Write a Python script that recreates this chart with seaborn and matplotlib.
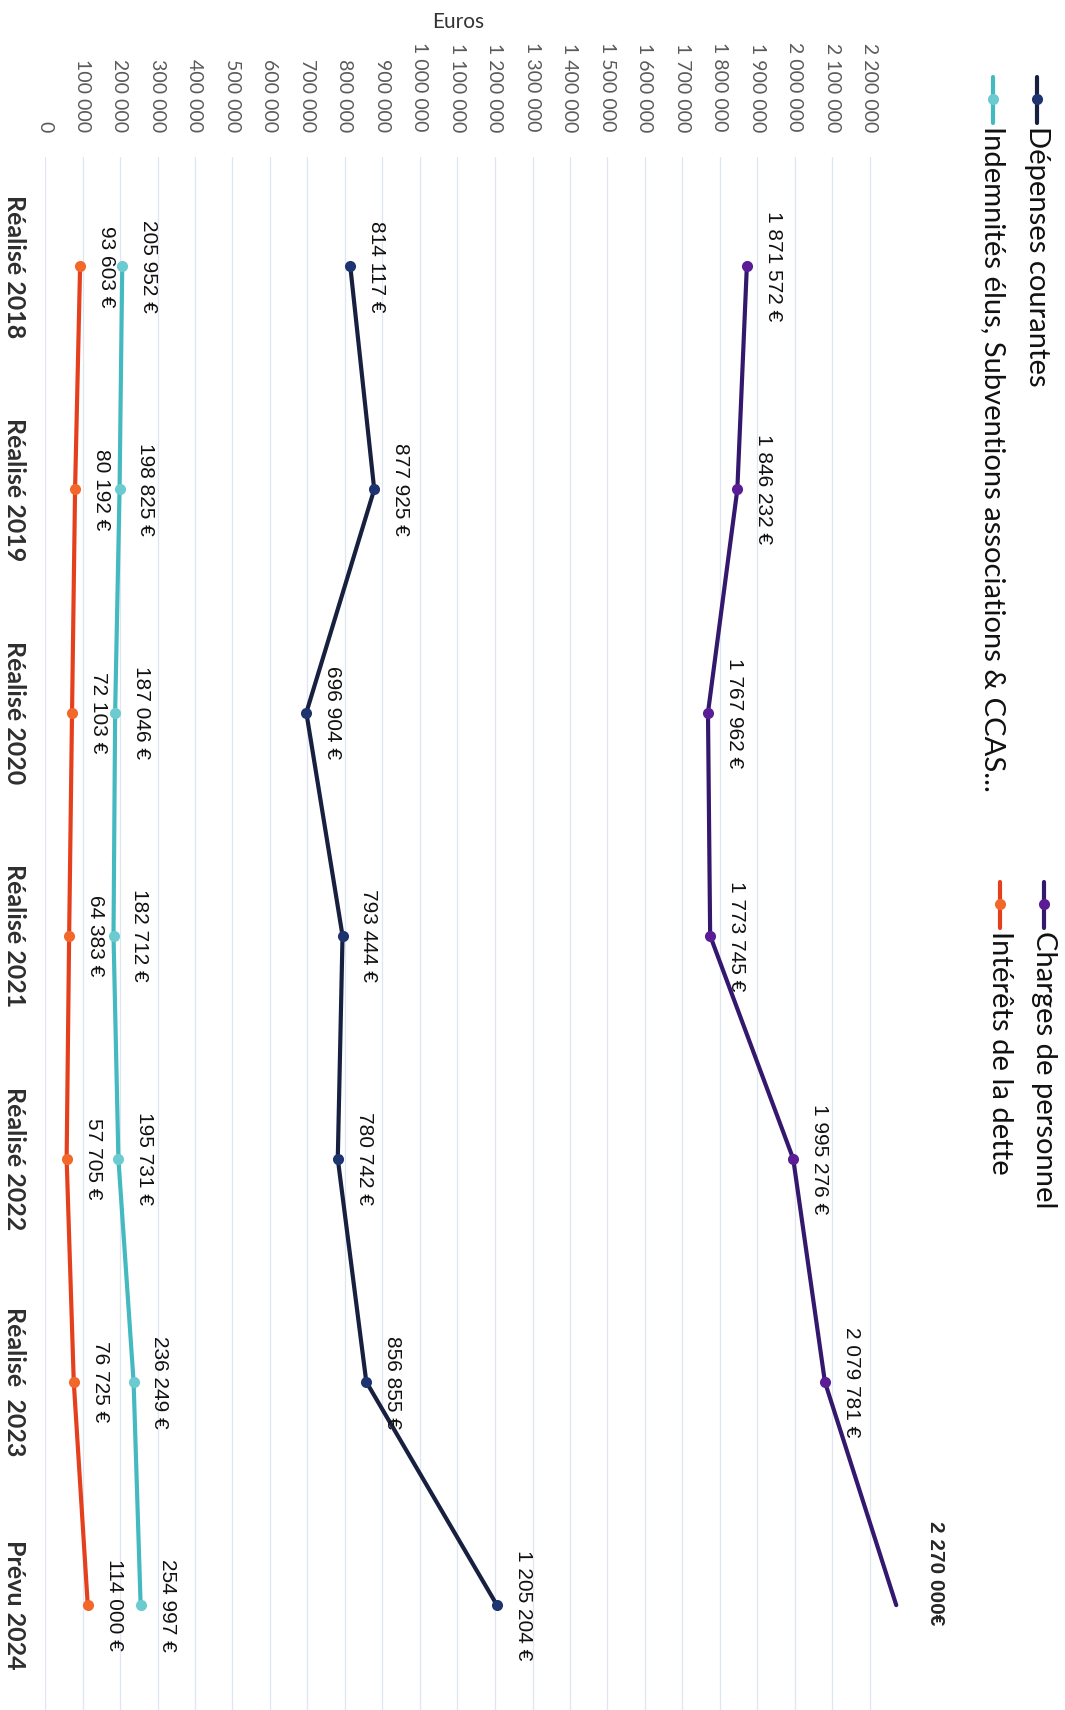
import pandas as pd
import numpy as np
import matplotlib.pyplot as plt
import seaborn as sns
from matplotlib.lines import Line2D

# Données
annees = ['Réalisé 2018', 'Réalisé 2019', 'Réalisé 2020', 'Réalisé 2021',
          'Réalisé 2022', 'Réalisé  2023', 'Prévu 2024']
depenses = [814117, 877925, 696904, 793444, 780742, 856855, 1205204]
charges = [1871572, 1846232, 1767962, 1773745, 1995276, 2079781, 2270000]
indemnites = [205952, 198825, 187046, 182712, 195731, 236249, 254997]
interets = [93603, 80192, 72103, 64383, 57705, 76725, 114000]

series = ['Dépenses courantes', 'Charges de personnel',
          'Indemnités élus, Subventions associations & CCAS...', 'Intérêts de la dette']
valeurs = [depenses, charges, indemnites, interets]
couleurs = ['#17203f', '#34186e', '#45b9c0', '#e5401d']
couleurs_pts = ['#1d3470', '#5a1d95', '#6ccbd0', '#f2682a']
ticks = list(range(0, 2200001, 100000))

rows = []
for nom, vals in zip(series, valeurs):
    for i, v in enumerate(vals):
        rows.append({'Série': nom, 'Montant': v, 'pos': i})
df = pd.DataFrame(rows)

sns.set_style('white')
plt.rcParams['font.family'] = ['Lato', 'DejaVu Sans']

W, H = 1065, 1710
fig = plt.figure(figsize=(W / 100, H / 100), dpi=100)
ax = fig.add_axes([45 / W, 0, 900 / W, 1 - 157 / H])

sns.lineplot(data=df, x='Montant', y='pos', hue='Série', hue_order=series,
             palette=couleurs, orient='y', sort=False, marker='o', markersize=8,
             markeredgewidth=0, linewidth=3, legend=False, ax=ax)

for line, c in zip(ax.lines, couleurs_pts):
    line.set_markerfacecolor(c)
# pas de marqueur pour la prévision des charges de personnel
ax.lines[1].set_markevery(list(range(6)))

ax.set_xlim(0, 2400000)
ax.set_ylim(6.47, -0.49)
ax.set_xticks(ticks)
ax.set_xticklabels([f'{t:,}'.replace(',', ' ') for t in ticks], rotation=-90,
                   fontsize=14, color='#5a5a5a')
ax.xaxis.tick_top()
ax.set_yticks(range(len(annees)))
ax.set_yticklabels(annees, rotation=-90, fontsize=18, fontweight='bold', color='#2e2e2e')
for lab in ax.get_yticklabels():
    lab.set_va('center')
ax.tick_params(axis='x', length=0, pad=18)
ax.tick_params(axis='y', length=0, pad=14)
ax.grid(axis='x', color='#dfe6ef', linewidth=0.9)
ax.grid(axis='y', visible=False)
for s in ax.spines.values():
    s.set_visible(False)
ax.set_xlabel('')
ax.set_ylabel('')

# étiquettes de valeurs
for nom, vals in zip(series, valeurs):
    for i, v in enumerate(vals):
        if nom == 'Charges de personnel' and i == 6:
            ax.annotate(f'{v:,}'.replace(',', ' ') + '€', xy=(v, i), xytext=(28, 23),
                        textcoords='offset points', rotation=-90, ha='center', va='center',
                        fontsize=15, fontweight='bold', family='Liberation Sans')
            continue
        ax.annotate(f'{v:,}'.replace(',', ' ') + ' €', xy=(v, i), xytext=(19, 0),
                    textcoords='offset points', rotation=-90, ha='center', va='center',
                    fontsize=15, family='Liberation Sans', color='#111111')

fig.text(458 / W, 1 - 22 / H, 'Euros', ha='center', va='center', fontsize=15, color='#333333')

# légende
leg_pos = [(1037, 77), (993, 77), (1044, 882), (1000, 882)]
ordre = [0, 2, 1, 3]
for (x, y), k in zip(leg_pos, ordre):
    fig.add_artist(Line2D([x / W, x / W], [1 - y / H, 1 - (y + 46) / H],
                          transform=fig.transFigure, color=couleurs[k], linewidth=3))
    fig.add_artist(Line2D([x / W], [1 - (y + 22) / H], transform=fig.transFigure,
                          marker='o', markersize=8, markeredgewidth=0,
                          color=couleurs_pts[k]))
    fig.text(x / W, 1 - (y + 49) / H, series[k], rotation=-90, ha='center', va='top',
             fontsize=21, color='#111111')

plt.savefig('out.png', dpi=100)
